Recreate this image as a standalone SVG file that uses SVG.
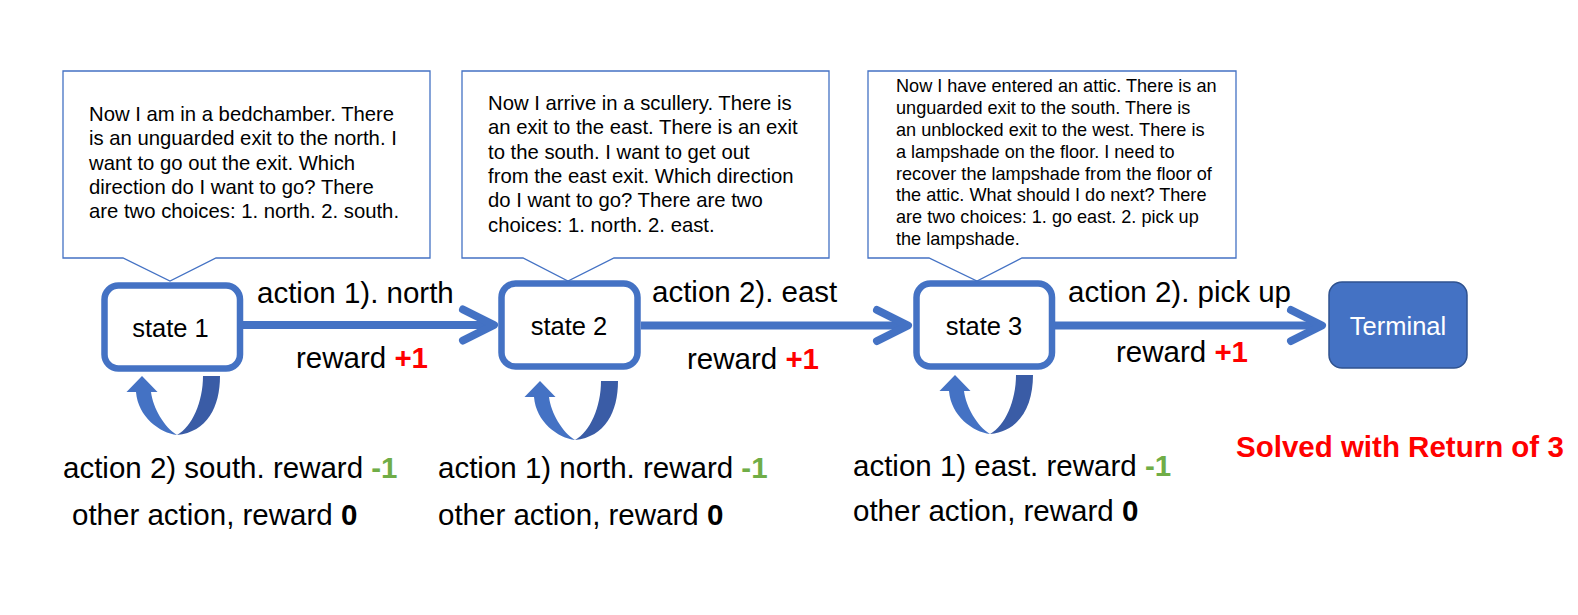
<svg xmlns="http://www.w3.org/2000/svg" width="1578" height="615" viewBox="0 0 1578 615">
<style>
text{font-family:"Liberation Sans",Arial,Helvetica,sans-serif;fill:#000}
.callout{fill:#fff;stroke:#4472C4;stroke-width:1.3}
.ct{font-size:20.3px}
.ct3{font-size:18.1px}
.state{fill:#fff;stroke:#4472C4;stroke-width:6.5}
.st{font-size:25.5px;text-anchor:middle}
.term{fill:#4472C4;stroke:#2F528F;stroke-width:1.5}
.tt{font-size:25.5px;text-anchor:middle;fill:#fff}
.edge{fill:none;stroke:#4472C4;stroke-width:8}
.lbl{font-size:29.5px}
.red{fill:#FF0000;font-weight:bold}
.grn{fill:#70AD47;font-weight:bold}
.bld{font-weight:bold}
.loopL{fill:#4472C4}
.loopD{fill:#3A5CA6}
</style>
<defs>
<marker id="chev" markerUnits="userSpaceOnUse" markerWidth="80" markerHeight="80" refX="0" refY="0" orient="auto" overflow="visible">
<path d="M-31,-15.5 L0,0 L-31,15.5" fill="none" stroke="#4472C4" stroke-width="8" stroke-linecap="round" stroke-linejoin="round"/>
</marker>
<g id="selfloop">
<path class="loopL" d="M-15.5,16 L0,0 L15.5,16 L9,16 C11,32 22,51 35,59 C18,57 -4,41 -6,16 Z"/>
<path class="loopD" d="M61,0 L78,0 C78,31 65,56 35,59 C50,51 61,26 61,0 Z"/>
</g>
</defs>
<rect width="1578" height="615" fill="#fff"/>

<g id="callout-1">
<path class="callout" d="M63,71 H430 V258 H216 L170,281 L123,258 H63 Z"/>
<text class="ct" x="89" y="121">Now I am in a bedchamber. There</text>
<text class="ct" x="89" y="145.3">is an unguarded exit to the north. I</text>
<text class="ct" x="89" y="169.6">want to go out the exit. Which</text>
<text class="ct" x="89" y="193.9">direction do I want to go? There</text>
<text class="ct" x="89" y="218.2">are two choices: 1. north. 2. south.</text>
</g>

<g id="callout-2">
<path class="callout" d="M462,71 H829 V258 H614 L568,281 L523,258 H462 Z"/>
<text class="ct" x="488" y="110">Now I arrive in a scullery. There is</text>
<text class="ct" x="488" y="134.3">an exit to the east. There is an exit</text>
<text class="ct" x="488" y="158.6">to the south. I want to get out</text>
<text class="ct" x="488" y="182.9">from the east exit. Which direction</text>
<text class="ct" x="488" y="207.2">do I want to go? There are two</text>
<text class="ct" x="488" y="231.5">choices: 1. north. 2. east.</text>
</g>

<g id="callout-3">
<path class="callout" d="M868,71 H1236 V258 H1022 L977,281 L929,258 H868 Z"/>
<text class="ct3" x="896" y="92.3">Now I have entered an attic. There is an</text>
<text class="ct3" x="896" y="114.1">unguarded exit to the south. There is</text>
<text class="ct3" x="896" y="135.9">an unblocked exit to the west. There is</text>
<text class="ct3" x="896" y="157.7">a lampshade on the floor. I need to</text>
<text class="ct3" x="896" y="179.5">recover the lampshade from the floor of</text>
<text class="ct3" x="896" y="201.3">the attic. What should I do next? There</text>
<text class="ct3" x="896" y="223.1">are two choices: 1. go east. 2. pick up</text>
<text class="ct3" x="896" y="244.9">the lampshade.</text>
</g>

<g id="connectors">
<path class="edge" d="M243,325 H494" marker-end="url(#chev)"/>
<path class="edge" d="M641,325.5 H908" marker-end="url(#chev)"/>
<path class="edge" d="M1055,325.5 H1322" marker-end="url(#chev)"/>
<use href="#selfloop" transform="translate(142,376)"/>
<use href="#selfloop" transform="translate(540,381)"/>
<use href="#selfloop" transform="translate(955,375)"/>
</g>

<g id="edge-labels">
<text class="lbl" x="257" y="303">action 1). north</text>
<text class="lbl" x="296" y="368">reward <tspan class="red">+1</tspan></text>
<text class="lbl" x="652" y="302">action 2). east</text>
<text class="lbl" x="687" y="369">reward <tspan class="red">+1</tspan></text>
<text class="lbl" x="1068" y="302">action 2). pick up</text>
<text class="lbl" x="1116" y="362">reward <tspan class="red">+1</tspan></text>
<text class="lbl" x="63" y="478">action 2) south. reward <tspan class="grn">-1</tspan></text>
<text class="lbl" x="72" y="525">other action, reward <tspan class="bld">0</tspan></text>
<text class="lbl" x="438" y="478">action 1) north. reward <tspan class="grn">-1</tspan></text>
<text class="lbl" x="438" y="525">other action, reward <tspan class="bld">0</tspan></text>
<text class="lbl" x="853" y="476">action 1) east. reward <tspan class="grn">-1</tspan></text>
<text class="lbl" x="853" y="521">other action, reward <tspan class="bld">0</tspan></text>
</g>

<g id="state-1">
<rect class="state" x="104.5" y="285.5" width="135.5" height="83" rx="14"/>
<text class="st" x="170.5" y="337">state 1</text>
</g>
<g id="state-2">
<rect class="state" x="501.5" y="283.5" width="136" height="83" rx="14"/>
<text class="st" x="569" y="335">state 2</text>
</g>
<g id="state-3">
<rect class="state" x="916.5" y="283.5" width="135.5" height="83" rx="14"/>
<text class="st" x="984" y="335">state 3</text>
</g>
<g id="terminal">
<rect class="term" x="1329" y="282" width="138" height="86" rx="13"/>
<text class="tt" x="1398" y="335">Terminal</text>
</g>

<g id="result">
<text class="lbl red" x="1236" y="457">Solved with Return of 3</text>
</g>
</svg>
